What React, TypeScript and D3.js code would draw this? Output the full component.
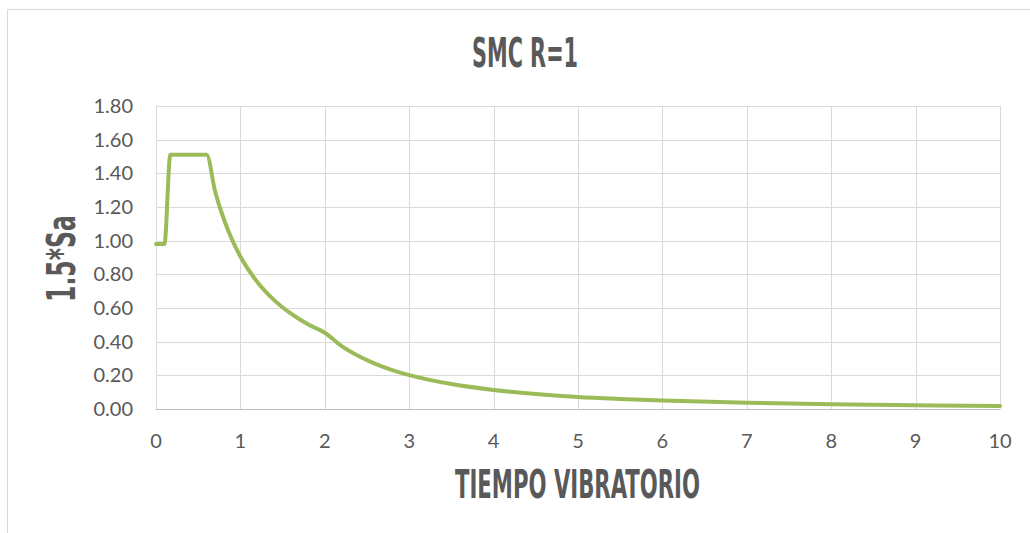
import React from "react";
import * as d3 from "d3";

const periods = [0, 0.1, 0.17, 0.6, 0.7, 0.8, 0.9, 1.0, 1.2, 1.4, 1.6, 1.8, 2.0, 2.2, 2.4, 2.6, 2.8, 3.0, 3.5, 4.0, 4.5, 5.0, 5.5, 6.0, 7.0, 8.0, 9.0, 10.0];
const saValues = [0.98, 0.98, 1.51, 1.51, 1.294, 1.133, 1.007, 0.906, 0.755, 0.647, 0.566, 0.503, 0.453, 0.374, 0.315, 0.268, 0.231, 0.201, 0.148, 0.113, 0.089, 0.072, 0.06, 0.05, 0.037, 0.028, 0.022, 0.018];
const xTicks = [0, 1, 2, 3, 4, 5, 6, 7, 8, 9, 10];
const yTicks = [0, 0.2, 0.4, 0.6, 0.8, 1.0, 1.2, 1.4, 1.6, 1.8];

const W = 1030;
const H = 533;
const left = 156;
const right = 1000;
const top = 106;
const bottom = 409;

export default function App() {
  const x = d3.scaleLinear().domain([0, 10]).range([left, right]);
  const y = d3.scaleLinear().domain([0, 1.8]).range([bottom, top]);
  const pts = periods.map((t, i) => [t, saValues[i]] as [number, number]);
  const line = d3
    .line<[number, number]>()
    .x((d) => x(d[0]))
    .y((d) => y(d[1]))
    .curve(d3.curveMonotoneX);
  const tickFont = "Lato, 'Open Sans', sans-serif";
  const titleFont = "'Liberation Sans Narrow', 'DejaVu Sans Condensed', 'Liberation Sans', sans-serif";
  return (
    <svg width={W} height={H} style={{ position: "absolute", left: 0, top: 0 }}>
      <rect x={0} y={0} width={W} height={H} fill="#ffffff" />
      <rect x={7.5} y={9.5} width={W + 10} height={H + 10} fill="none" stroke="#d9d9d9" strokeWidth={1} />
      {yTicks.slice(1).map((v) => (
        <line key={"gy" + v} x1={left} x2={right} y1={Math.round(y(v)) + 0.5} y2={Math.round(y(v)) + 0.5} stroke="#d9d9d9" strokeWidth={1} />
      ))}
      {xTicks.slice(1).map((v) => (
        <line key={"gx" + v} x1={Math.round(x(v)) + 0.5} x2={Math.round(x(v)) + 0.5} y1={top} y2={bottom} stroke="#d9d9d9" strokeWidth={1} />
      ))}
      <line x1={left + 0.5} x2={left + 0.5} y1={top} y2={bottom} stroke="#d9d9d9" strokeWidth={1} />
      <line x1={left} x2={right} y1={bottom + 0.5} y2={bottom + 0.5} stroke="#bfbfbf" strokeWidth={1} />
      {yTicks.map((v) => (
        <text key={"ty" + v} x={133} y={y(v) + 7} textAnchor="end" fontFamily={tickFont} fontSize={20} fill="#595959">
          {v.toFixed(2)}
        </text>
      ))}
      {xTicks.map((v) => (
        <text key={"tx" + v} x={x(v)} y={448} textAnchor="middle" fontFamily={tickFont} fontSize={20} fill="#595959">
          {v}
        </text>
      ))}
      <path d={line(pts) || ""} fill="none" stroke="#9bbb59" strokeWidth={4} strokeLinejoin="round" strokeLinecap="round" />
      <text x={525} y={67} textAnchor="middle" fontFamily={titleFont} fontWeight="bold" fontSize={41} fill="#595959" textLength={106} lengthAdjust="spacingAndGlyphs">
        SMC R=1
      </text>
      <text x={577.5} y={498} textAnchor="middle" fontFamily={titleFont} fontWeight="bold" fontSize={39} fill="#595959" textLength={245} lengthAdjust="spacingAndGlyphs">
        TIEMPO VIBRATORIO
      </text>
      <text transform="translate(75,258.5) rotate(-90)" textAnchor="middle" fontFamily={titleFont} fontWeight="bold" fontSize={39} fill="#595959" textLength={87} lengthAdjust="spacingAndGlyphs">
        1.5*Sa
      </text>
    </svg>
  );
}
